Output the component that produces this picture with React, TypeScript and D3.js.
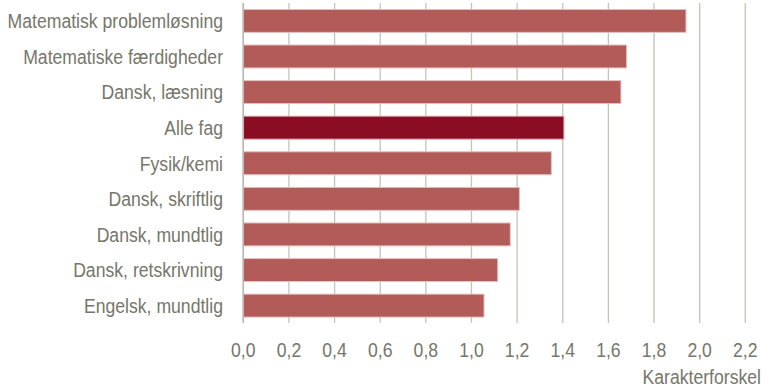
import React from "react";
import * as d3 from "d3";

const categories = [
  "Matematisk problemløsning",
  "Matematiske færdigheder",
  "Dansk, læsning",
  "Alle fag",
  "Fysik/kemi",
  "Dansk, skriftlig",
  "Dansk, mundtlig",
  "Dansk, retskrivning",
  "Engelsk, mundtlig",
];
const values = [1.94, 1.68, 1.655, 1.405, 1.35, 1.21, 1.17, 1.115, 1.055];
const highlight = ["Alle fag"];
const ticks = [0, 0.2, 0.4, 0.6, 0.8, 1.0, 1.2, 1.4, 1.6, 1.8, 2.0, 2.2];
const axisTitle = "Karakterforskel";

const W = 767;
const H = 387;
const FONT = "'Liberation Sans', Arial, sans-serif";
const FS = 21;
const SX = 0.84;
const TEXT = "#76766a";

function NText({ x, y, anchor, children }: { x: number; y: number; anchor: string; children: React.ReactNode }) {
  return (
    <text
      transform={`translate(${x},${y}) scale(${SX},1)`}
      textAnchor={anchor}
      fontFamily={FONT}
      fontSize={FS}
      fill={TEXT}
    >
      {children}
    </text>
  );
}

export default function App() {
  const x = d3.scaleLinear().domain([0, 2.2]).range([243.3, 745.3]);
  const y = d3.scaleBand().domain(categories).range([3, 323.5]).paddingInner(0.355).paddingOuter(0.18);
  const fmt = (v: number) => d3.format(".1f")(v).replace(".", ",");
  return (
    <svg width={W} height={H} style={{ position: "absolute", left: 0, top: 0, background: "#fff" }}>
      {ticks.map((t) => (
        <line key={t} x1={x(t)} x2={x(t)} y1={3} y2={323} stroke="#c4c3b6" strokeWidth={1.3} />
      ))}
      {categories.map((c, i) => (
        <rect
          key={c}
          x={x(0)}
          y={y(c)}
          width={x(values[i]) - x(0)}
          height={y.bandwidth()}
          fill={highlight.includes(c) ? "#8b0d24" : "#b35b59"}
          stroke={highlight.includes(c) ? "#d9a9b0" : "#e2c3c2"}
          strokeWidth={1}
        />
      ))}
      <line x1={x(0)} x2={x(0)} y1={3} y2={323} stroke="#b9b8ab" strokeWidth={1.5} />
      {categories.map((c) => (
        <NText key={c} x={223} y={(y(c) as number) + y.bandwidth() / 2 + 7.4} anchor="end">
          {c}
        </NText>
      ))}
      {ticks.map((t) => (
        <NText key={t} x={x(t)} y={357.3} anchor="middle">
          {fmt(t)}
        </NText>
      ))}
      <NText x={761} y={384} anchor="end">
        {axisTitle}
      </NText>
    </svg>
  );
}
